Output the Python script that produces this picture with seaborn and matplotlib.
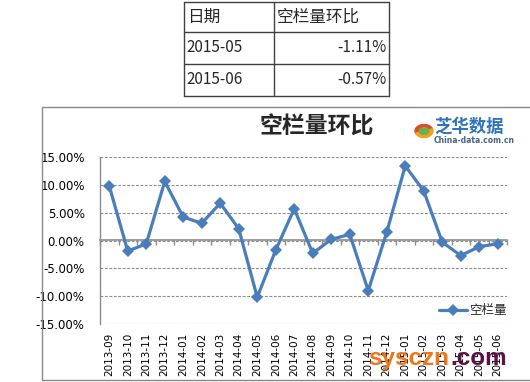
import numpy as np
import pandas as pd
import matplotlib
matplotlib.use("Agg")
import matplotlib.pyplot as plt
import seaborn as sns
from matplotlib.lines import Line2D
from matplotlib.patches import Rectangle, Wedge
from matplotlib.ticker import FuncFormatter

# Data
months = [
    "2013-09", "2013-10", "2013-11", "2013-12", "2014-01", "2014-02",
    "2014-03", "2014-04", "2014-05", "2014-06", "2014-07", "2014-08",
    "2014-09", "2014-10", "2014-11", "2014-12", "2015-01", "2015-02",
    "2015-03", "2015-04", "2015-05", "2015-06",
]
values = [
    9.8, -1.9, -0.6, 10.6, 4.2, 3.1, 6.7, 2.1, -10.2, -1.7, 5.7, -2.3,
    0.2, 1.1, -9.0, 1.5, 13.4, 8.9, -0.3, -2.7, -1.11, -0.57,
]
series_name = "空栏量"
title = "空栏量环比"
table_header = ["日期", "空栏量环比"]
yticks = [-15, -10, -5, 0, 5, 10, 15]

W, H = 530, 382
LINE_COLOR = "#4a7ebb"
GRID_COLOR = "#8c8c8c"
CJK = ["Noto Sans CJK SC", "DejaVu Sans"]

sns.set_style("white")
plt.rcParams["font.family"] = ["DejaVu Sans", "Noto Sans CJK SC"]


def fx(px):
    return px / W


def fy(py):
    return 1 - py / H


df = pd.DataFrame({"month": months, "value": values})

fig = plt.figure(figsize=(W / 100, H / 100), dpi=100)
fig.patch.set_facecolor("white")
ax = fig.add_axes([fx(100), fy(324), fx(507) - fx(100), fy(157) - fy(324)])

sns.lineplot(
    data=df, x="month", y="value", ax=ax, color=LINE_COLOR, lw=2.3,
    marker="D", markersize=6.5, markeredgewidth=0, label=series_name,
    sort=False, zorder=5,
)

ax.set_xlim(-0.5, len(months) - 0.5)
ax.set_ylim(-15, 15)
ax.set_yticks(yticks)
ax.yaxis.set_major_formatter(FuncFormatter(lambda v, p: f"{v:.2f}%"))
ax.set_xlabel("")
ax.set_ylabel("")

ax.grid(axis="y", color=GRID_COLOR, linestyle=(0, (2.5, 1.5)), lw=0.8)
ax.grid(axis="x", visible=False)
for side in ["top", "right", "bottom"]:
    ax.spines[side].set_visible(False)
ax.spines["left"].set_color(GRID_COLOR)
ax.spines["left"].set_linewidth(1.0)

ax.tick_params(axis="y", direction="out", length=3, color=GRID_COLOR,
               width=1, pad=8, labelsize=8.5, labelcolor="black")
ax.tick_params(axis="x", length=0, pad=6.5, labelsize=7.5,
               labelrotation=90, labelcolor="black")
for lbl in ax.get_xticklabels():
    lbl.set_va("top")

# category axis crossing at zero, ticks between categories
sec = ax.secondary_xaxis(0.5)
sec.set_alignment("bottom")
sec.set_xticks(np.arange(-0.5, len(months), 1.0))
sec.set_xticklabels([])
sec.tick_params(axis="x", direction="out", length=3.5, color=GRID_COLOR, width=1)
sec.spines["bottom"].set_color(GRID_COLOR)
sec.spines["bottom"].set_linewidth(1.2)

leg = ax.legend(loc="center right", bbox_to_anchor=(1.0, 0.078), frameon=False,
                handlelength=2.2, handletextpad=0.2, borderaxespad=0,
                borderpad=0, prop={"family": CJK, "size": 9})

# chart frame
fig.add_artist(Rectangle((fx(42), fy(380)), 1.0, fy(107) - fy(380),
                         transform=fig.transFigure, fill=False,
                         edgecolor="#8a8a8a", lw=1.0))

# title
fig.text(fx(317), fy(127), title, ha="center", va="center", fontsize=16.5,
         fontweight="bold", family=CJK)

# logo
fig.add_artist(Wedge((fx(424), fy(131)), 0.017, 20, 200, width=0.006,
                     transform=fig.transFigure, color="#e8452a"))
fig.add_artist(Wedge((fx(424), fy(131)), 0.017, 200, 380, width=0.006,
                     transform=fig.transFigure, color="#f2a020"))
fig.add_artist(Wedge((fx(424), fy(131)), 0.009, 0, 360,
                     transform=fig.transFigure, color="#6ab04c"))
fig.text(fx(434), fy(127), "芝华数据", ha="left", va="center", fontsize=12.5,
         fontweight="bold", color="#2f74b9", family=CJK)
fig.text(fx(434), fy(141), "China-data.com.cn", ha="left", va="center",
         fontsize=5.5, color="#4a6485", fontweight="bold")

# summary table above the chart
tl, tm, tr = 184, 274, 389
rows_y = [2, 32, 64, 96]
for y in rows_y:
    fig.add_artist(Line2D([fx(tl), fx(tr)], [fy(y), fy(y)],
                          transform=fig.transFigure, color="#404040", lw=1))
for x in [tl, tm, tr]:
    fig.add_artist(Line2D([fx(x), fx(x)], [fy(rows_y[0]), fy(rows_y[-1])],
                          transform=fig.transFigure, color="#404040", lw=1))

fig.text(fx(187), fy(17), table_header[0], ha="left", va="center",
         fontsize=12, family=CJK)
fig.text(fx(277), fy(17), table_header[1], ha="left", va="center",
         fontsize=12, family=CJK)
for i, (m, v) in enumerate(zip(months[-2:], values[-2:])):
    yc = (rows_y[i + 1] + rows_y[i + 2]) / 2
    fig.text(fx(186), fy(yc), m, ha="left", va="center", fontsize=11,
             family=CJK)
    fig.text(fx(387), fy(yc), f"{v:.2f}%", ha="right", va="center",
             fontsize=11, family=CJK)

# site watermark
fig.text(fx(368), fy(365), "sysczn", ha="left", va="baseline", fontsize=17.5,
         fontweight="bold", color="#f07418", family="Liberation Sans", zorder=10)
fig.text(fx(450), fy(365), ".com", ha="left", va="baseline", fontsize=17.5,
         fontweight="bold", color="#5c1242", family="Liberation Sans", zorder=10)

fig.savefig("out.png", dpi=100)
